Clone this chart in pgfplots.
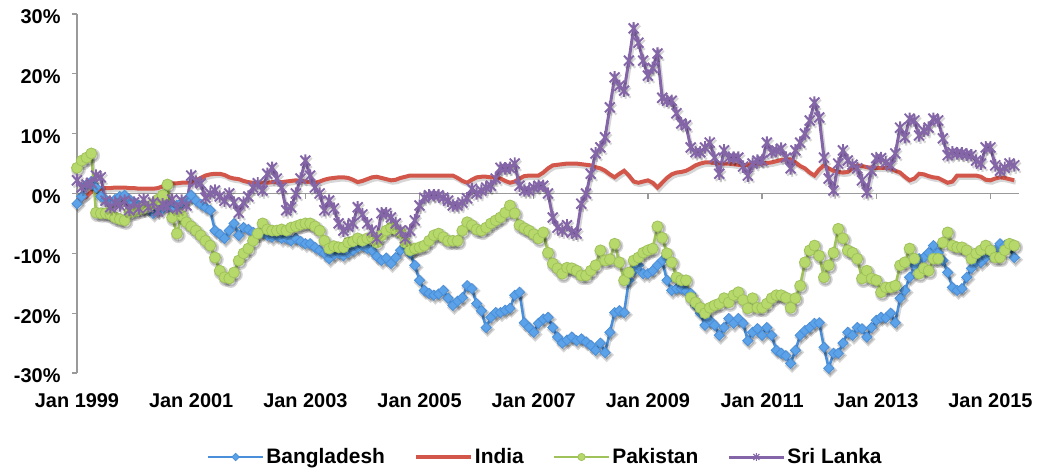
\documentclass[border=0pt]{standalone}
\usepackage{fontspec}
\setmainfont{Liberation Sans}
\usepackage{pgfplots}
\usepackage{pgfplotstable}
\pgfplotsset{compat=1.18}
\definecolor{bdl}{HTML}{4A8FD9}
\definecolor{bdf}{HTML}{5CA2E8}
\definecolor{ind}{HTML}{D3564A}
\definecolor{pkl}{HTML}{9FC25A}
\definecolor{pkf}{HTML}{B7D96C}
\definecolor{slk}{HTML}{8466A8}
\definecolor{axg}{HTML}{9A9A9A}
\pgfdeclareplotmark{xstar}{%
  \pgfpathmoveto{\pgfqpoint{-.8\pgfplotmarksize}{-.8\pgfplotmarksize}}%
  \pgfpathlineto{\pgfqpoint{.8\pgfplotmarksize}{.8\pgfplotmarksize}}%
  \pgfpathmoveto{\pgfqpoint{-.8\pgfplotmarksize}{.8\pgfplotmarksize}}%
  \pgfpathlineto{\pgfqpoint{.8\pgfplotmarksize}{-.8\pgfplotmarksize}}%
  \pgfpathmoveto{\pgfqpoint{0pt}{-\pgfplotmarksize}}%
  \pgfpathlineto{\pgfqpoint{0pt}{\pgfplotmarksize}}%
  \pgfusepathqstroke}
\pgfplotstableread{
i B I P S
0 -1.7 -0.8 4.3 2.2
1 -0.5 -1.0 5.5 1.0
2 1.5 -0.5 6.0 1.5
3 2.0 0.3 6.7 1.8
4 1.0 0.6 -3.2 3.0
5 -0.5 0.8 -3.3 2.7
6 -1.0 0.9 -3.3 -1.2
7 -1.5 0.9 -3.5 -2.3
8 -1.0 1.0 -4.0 -1.5
9 -0.5 1.0 -4.3 -2.0
10 -0.3 1.0 -4.5 -1.2
11 -1.0 0.9 -3.2 -2.8
12 -1.5 0.9 -3.0 -1.5
13 -2.0 0.8 -2.7 -2.5
14 -2.5 0.8 -2.5 -1.0
15 -2.5 0.8 -2.2 -2.3
16 -3.3 0.8 -1.7 -1.5
17 -2.8 0.9 -1.0 -3.0
18 -2.5 1.2 -0.3 -1.8
19 -2.0 1.5 1.5 -2.2
20 -2.5 1.7 -4.0 -1.0
21 -2.0 1.7 -6.7 -2.5
22 -1.5 1.8 -3.7 -1.2
23 -1.0 1.8 -4.8 -2.0
24 -0.3 1.8 -5.5 3.0
25 -1.2 2.2 -6.2 2.0
26 -1.8 2.6 -7.0 1.7
27 -2.3 3.0 -7.9 -0.7
28 -2.8 3.2 -8.7 0.0
29 -6.2 3.3 -10.7 0.5
30 -6.8 3.3 -12.9 -0.5
31 -7.5 3.1 -14.0 -1.2
32 -6.2 2.7 -14.2 0.0
33 -5.0 2.5 -13.2 -1.5
34 -7.0 2.4 -11.2 -3.2
35 -5.7 2.1 -10.0 -1.5
36 -6.0 1.9 -9.2 -0.5
37 -6.5 1.8 -7.9 1.0
38 -6.8 1.8 -6.7 1.7
39 -6.5 1.8 -5.0 0.5
40 -7.0 1.8 -6.0 3.3
41 -7.3 1.9 -6.2 4.3
42 -7.0 1.9 -6.2 2.5
43 -7.5 1.9 -6.0 1.0
44 -7.5 2.0 -6.2 -2.8
45 -7.9 2.1 -5.7 -2.3
46 -7.5 2.2 -5.5 0.0
47 -8.0 2.1 -5.2 2.5
48 -8.4 2.0 -5.0 5.5
49 -8.4 1.9 -5.0 3.0
50 -9.0 1.8 -5.5 1.0
51 -9.5 2.0 -6.2 0.0
52 -10.0 2.3 -7.9 -2.8
53 -10.9 2.5 -9.2 -1.2
54 -10.2 2.6 -8.8 -2.5
55 -10.0 2.7 -9.0 -5.0
56 -10.4 2.7 -9.0 -6.2
57 -9.9 2.6 -8.2 -5.5
58 -9.5 2.3 -8.0 -5.0
59 -9.0 1.9 -7.5 -2.3
60 -8.7 2.1 -7.9 -3.5
61 -9.2 2.4 -7.5 -5.0
62 -9.5 2.7 -7.3 -6.2
63 -10.5 2.8 -8.2 -7.5
64 -11.2 2.6 -7.0 -3.3
65 -10.8 2.4 -6.2 -3.3
66 -11.7 2.2 -5.7 -4.0
67 -10.7 2.3 -6.0 -5.0
68 -9.5 2.6 -6.5 -6.2
69 -8.7 2.8 -8.2 -7.5
70 -10.0 3.0 -9.5 -6.2
71 -12.0 3.0 -9.2 -4.5
72 -14.5 3.0 -9.0 -2.0
73 -16.2 3.0 -8.7 -0.7
74 -16.7 3.0 -7.9 -0.3
75 -17.0 3.0 -7.0 -0.3
76 -16.8 3.0 -6.7 -0.3
77 -16.2 3.0 -7.3 -0.7
78 -17.5 3.0 -7.9 -1.2
79 -18.7 3.0 -7.9 -2.0
80 -18.0 2.6 -7.9 -2.0
81 -17.4 2.1 -6.2 -1.5
82 -15.4 1.8 -4.8 -0.8
83 -15.9 2.3 -5.3 0.8
84 -18.4 2.7 -6.0 0.0
85 -19.6 2.8 -6.2 0.5
86 -22.4 2.8 -5.7 1.0
87 -20.7 2.7 -5.0 1.3
88 -19.9 2.7 -4.5 2.5
89 -19.9 2.5 -4.0 4.3
90 -19.5 2.1 -3.2 4.2
91 -19.2 1.8 -2.0 4.3
92 -17.0 2.0 -3.3 5.0
93 -16.5 2.5 -5.3 1.3
94 -21.6 2.9 -5.8 0.5
95 -22.4 3.0 -6.2 0.5
96 -23.2 3.0 -6.8 1.0
97 -21.7 3.0 -7.5 1.3
98 -21.0 3.5 -6.5 1.3
99 -20.7 4.2 -9.9 0.0
100 -22.4 4.7 -11.7 -4.0
101 -24.0 4.8 -12.5 -5.7
102 -25.0 4.9 -13.4 -6.2
103 -24.5 5.0 -12.4 -5.3
104 -24.0 5.0 -12.5 -6.5
105 -24.6 5.0 -12.9 -6.7
106 -24.3 4.9 -13.7 -1.7
107 -24.8 4.8 -13.7 0.0
108 -25.4 4.7 -12.9 3.3
109 -26.2 4.4 -12.0 6.7
110 -25.0 4.2 -9.5 7.7
111 -26.6 3.8 -11.2 9.4
112 -23.2 3.2 -11.0 14.4
113 -19.9 2.7 -8.4 19.4
114 -19.6 3.3 -11.5 18.0
115 -19.9 3.8 -14.5 17.2
116 -14.5 3.0 -13.2 22.2
117 -13.0 2.0 -11.2 27.6
118 -12.0 1.8 -10.7 25.2
119 -13.4 2.0 -9.9 22.2
120 -13.4 2.2 -9.5 19.7
121 -12.9 1.8 -9.2 21.0
122 -12.0 1.0 -5.5 23.4
123 -11.2 1.8 -7.4 16.0
124 -14.5 2.6 -10.0 15.5
125 -16.2 3.2 -11.5 15.5
126 -15.9 3.5 -14.0 13.4
127 -15.9 3.6 -14.5 11.7
128 -16.3 3.8 -14.5 11.4
129 -16.7 4.2 -17.4 7.7
130 -18.7 4.7 -18.2 6.9
131 -20.0 5.0 -19.1 6.9
132 -22.0 5.2 -20.0 7.7
133 -21.2 5.2 -19.1 8.5
134 -22.0 5.1 -18.7 6.0
135 -23.7 5.0 -18.4 3.3
136 -22.4 5.0 -17.5 7.2
137 -20.9 5.0 -18.2 6.0
138 -21.7 4.9 -17.0 6.0
139 -20.9 4.8 -16.5 6.0
140 -21.7 4.7 -17.8 4.5
141 -24.6 4.8 -19.2 3.0
142 -23.2 5.0 -17.5 5.0
143 -22.6 5.0 -19.1 5.5
144 -23.7 5.0 -19.1 5.5
145 -22.4 5.1 -18.4 8.5
146 -23.7 5.2 -17.5 6.9
147 -26.2 5.4 -17.0 7.2
148 -26.7 5.6 -17.0 7.5
149 -27.1 5.7 -17.4 6.0
150 -28.4 5.7 -19.1 4.2
151 -26.2 5.2 -17.5 7.2
152 -23.7 4.6 -15.4 8.5
153 -22.9 4.2 -11.5 10.0
154 -22.4 3.5 -9.5 12.2
155 -21.7 3.0 -8.7 15.2
156 -21.6 4.0 -10.4 12.7
157 -25.7 4.7 -14.0 6.0
158 -29.2 4.2 -12.0 2.5
159 -26.7 3.8 -9.9 0.5
160 -26.7 3.6 -5.9 5.0
161 -25.0 3.5 -7.5 7.2
162 -23.2 3.6 -9.5 5.5
163 -23.7 4.2 -9.9 4.8
164 -22.4 4.7 -10.9 4.2
165 -22.6 4.6 -14.2 2.2
166 -24.0 4.4 -12.9 0.2
167 -22.4 4.3 -14.2 3.8
168 -21.2 4.3 -14.5 5.9
169 -20.7 4.3 -16.5 5.9
170 -20.8 4.3 -15.7 5.2
171 -20.0 4.2 -15.7 4.7
172 -21.6 3.8 -15.4 6.7
173 -17.5 3.5 -12.0 11.0
174 -16.2 2.8 -11.5 9.4
175 -14.0 2.2 -9.2 12.5
176 -12.0 2.5 -10.9 12.2
177 -10.9 3.3 -13.4 9.7
178 -10.7 3.2 -12.5 10.5
179 -9.9 2.9 -12.9 11.0
180 -8.7 2.7 -10.9 12.5
181 -9.9 2.6 -10.9 12.2
182 -11.2 2.2 -8.2 9.2
183 -13.2 1.8 -6.5 6.4
184 -15.7 2.0 -8.7 6.9
185 -16.2 3.0 -9.0 6.7
186 -15.9 3.0 -9.0 6.7
187 -14.0 3.0 -9.5 6.5
188 -12.5 3.0 -10.9 6.4
189 -11.5 3.0 -10.0 5.5
190 -11.5 2.8 -9.5 5.0
191 -10.7 2.3 -8.7 7.7
192 -10.0 2.2 -9.5 7.7
193 -9.5 2.5 -10.7 4.7
194 -8.4 2.7 -10.7 3.8
195 -8.7 2.6 -9.5 4.3
196 -9.0 2.4 -8.4 5.0
197 -10.7 2.2 -8.7 4.7
}\data
\begin{document}
\begin{tikzpicture}
\useasboundingbox (-77bp,-98bp) rectangle (964bp,373bp);
\begin{axis}[
  at={(0,0)}, anchor=south west,
  scale only axis, width=942bp, height=359bp,
  xmin=0, xmax=198, ymin=-30, ymax=30,
  clip=false,
  axis y line*=left, axis x line*=bottom,
  x axis line style={draw=none},
  y axis line style={draw=axg, line width=1.3bp},
  xtick={0,24,...,192},
  xticklabels={Jan 1999,Jan 2001,Jan 2003,Jan 2005,Jan 2007,Jan 2009,Jan 2011,Jan 2013,Jan 2015},
  xtick style={draw=none},
  ytick={-30,-20,...,30},
  yticklabels={-30\%,-20\%,-10\%,0\%,10\%,20\%,30\%},
  ytick style={draw=axg, line width=1.3bp},
  tick align=outside, major tick length=5bp,
  ticklabel style={font=\fontsize{20}{24}\selectfont\bfseries},
  xticklabel style={yshift=-12bp},
  yticklabel style={xshift=-8bp, yshift=-3bp},
  legend style={at={(0.497,-0.234)}, anchor=center, draw=none, fill=none,
    font=\fontsize{21}{25}\selectfont\bfseries, legend columns=4,
    /tikz/every even column/.append style={column sep=27bp},
    inner sep=0pt},
  legend image code/.code={\draw[mark repeat=2,mark phase=2] plot coordinates {(0bp,0bp) (27.5bp,0bp) (55bp,0bp)};},
  shadow/.style={black, opacity=0.16, forget plot, /tikz/xshift=1.5bp, /tikz/yshift=-2.2bp},
]
\draw[axg, line width=1.3bp] (axis cs:0,0) -- (axis cs:198,0);
\pgfplotsinvokeforeach{24,48,...,192}{\draw[axg, line width=1.3bp] (axis cs:#1,0) -- ++(0bp,-5bp);}
\addplot[shadow, line width=3bp, mark=square*, mark size=3.7bp, mark options={rotate=45}] table[x=i, y=B] {\data};
\addplot[bdl, line width=2.6bp, mark=square*, mark size=3.6bp,
  mark options={rotate=45, fill=bdf, draw=bdl, line width=0.8bp},
  legend image post style={mark size=2.6bp}] table[x=i, y=B] {\data};
\addlegendentry{Bangladesh}
\addplot[shadow, line width=4.4bp, no markers] table[x=i, y=I] {\data};
\addplot[ind, line width=4bp, no markers] table[x=i, y=I] {\data};
\addlegendentry{India}
\addplot[shadow, line width=3bp, mark=*, mark size=5.8bp] table[x=i, y=P] {\data};
\addplot[pkl, line width=2.6bp, mark=*, mark size=5.5bp,
  mark options={fill=pkf, draw=pkl, line width=0.8bp},
  legend image post style={mark size=3.6bp}] table[x=i, y=P] {\data};
\addlegendentry{Pakistan}
\addplot[shadow, line width=3.4bp, mark=xstar, mark size=6.2bp, mark options={line width=2.2bp}] table[x=i, y=S] {\data};
\addplot[slk, line width=3bp, mark=xstar, mark size=6.2bp,
  mark options={line width=1.9bp},
  legend image post style={mark size=3.8bp, mark options={line width=1.1bp}}] table[x=i, y=S] {\data};
\addlegendentry{Sri Lanka}
\end{axis}
\end{tikzpicture}
\end{document}
